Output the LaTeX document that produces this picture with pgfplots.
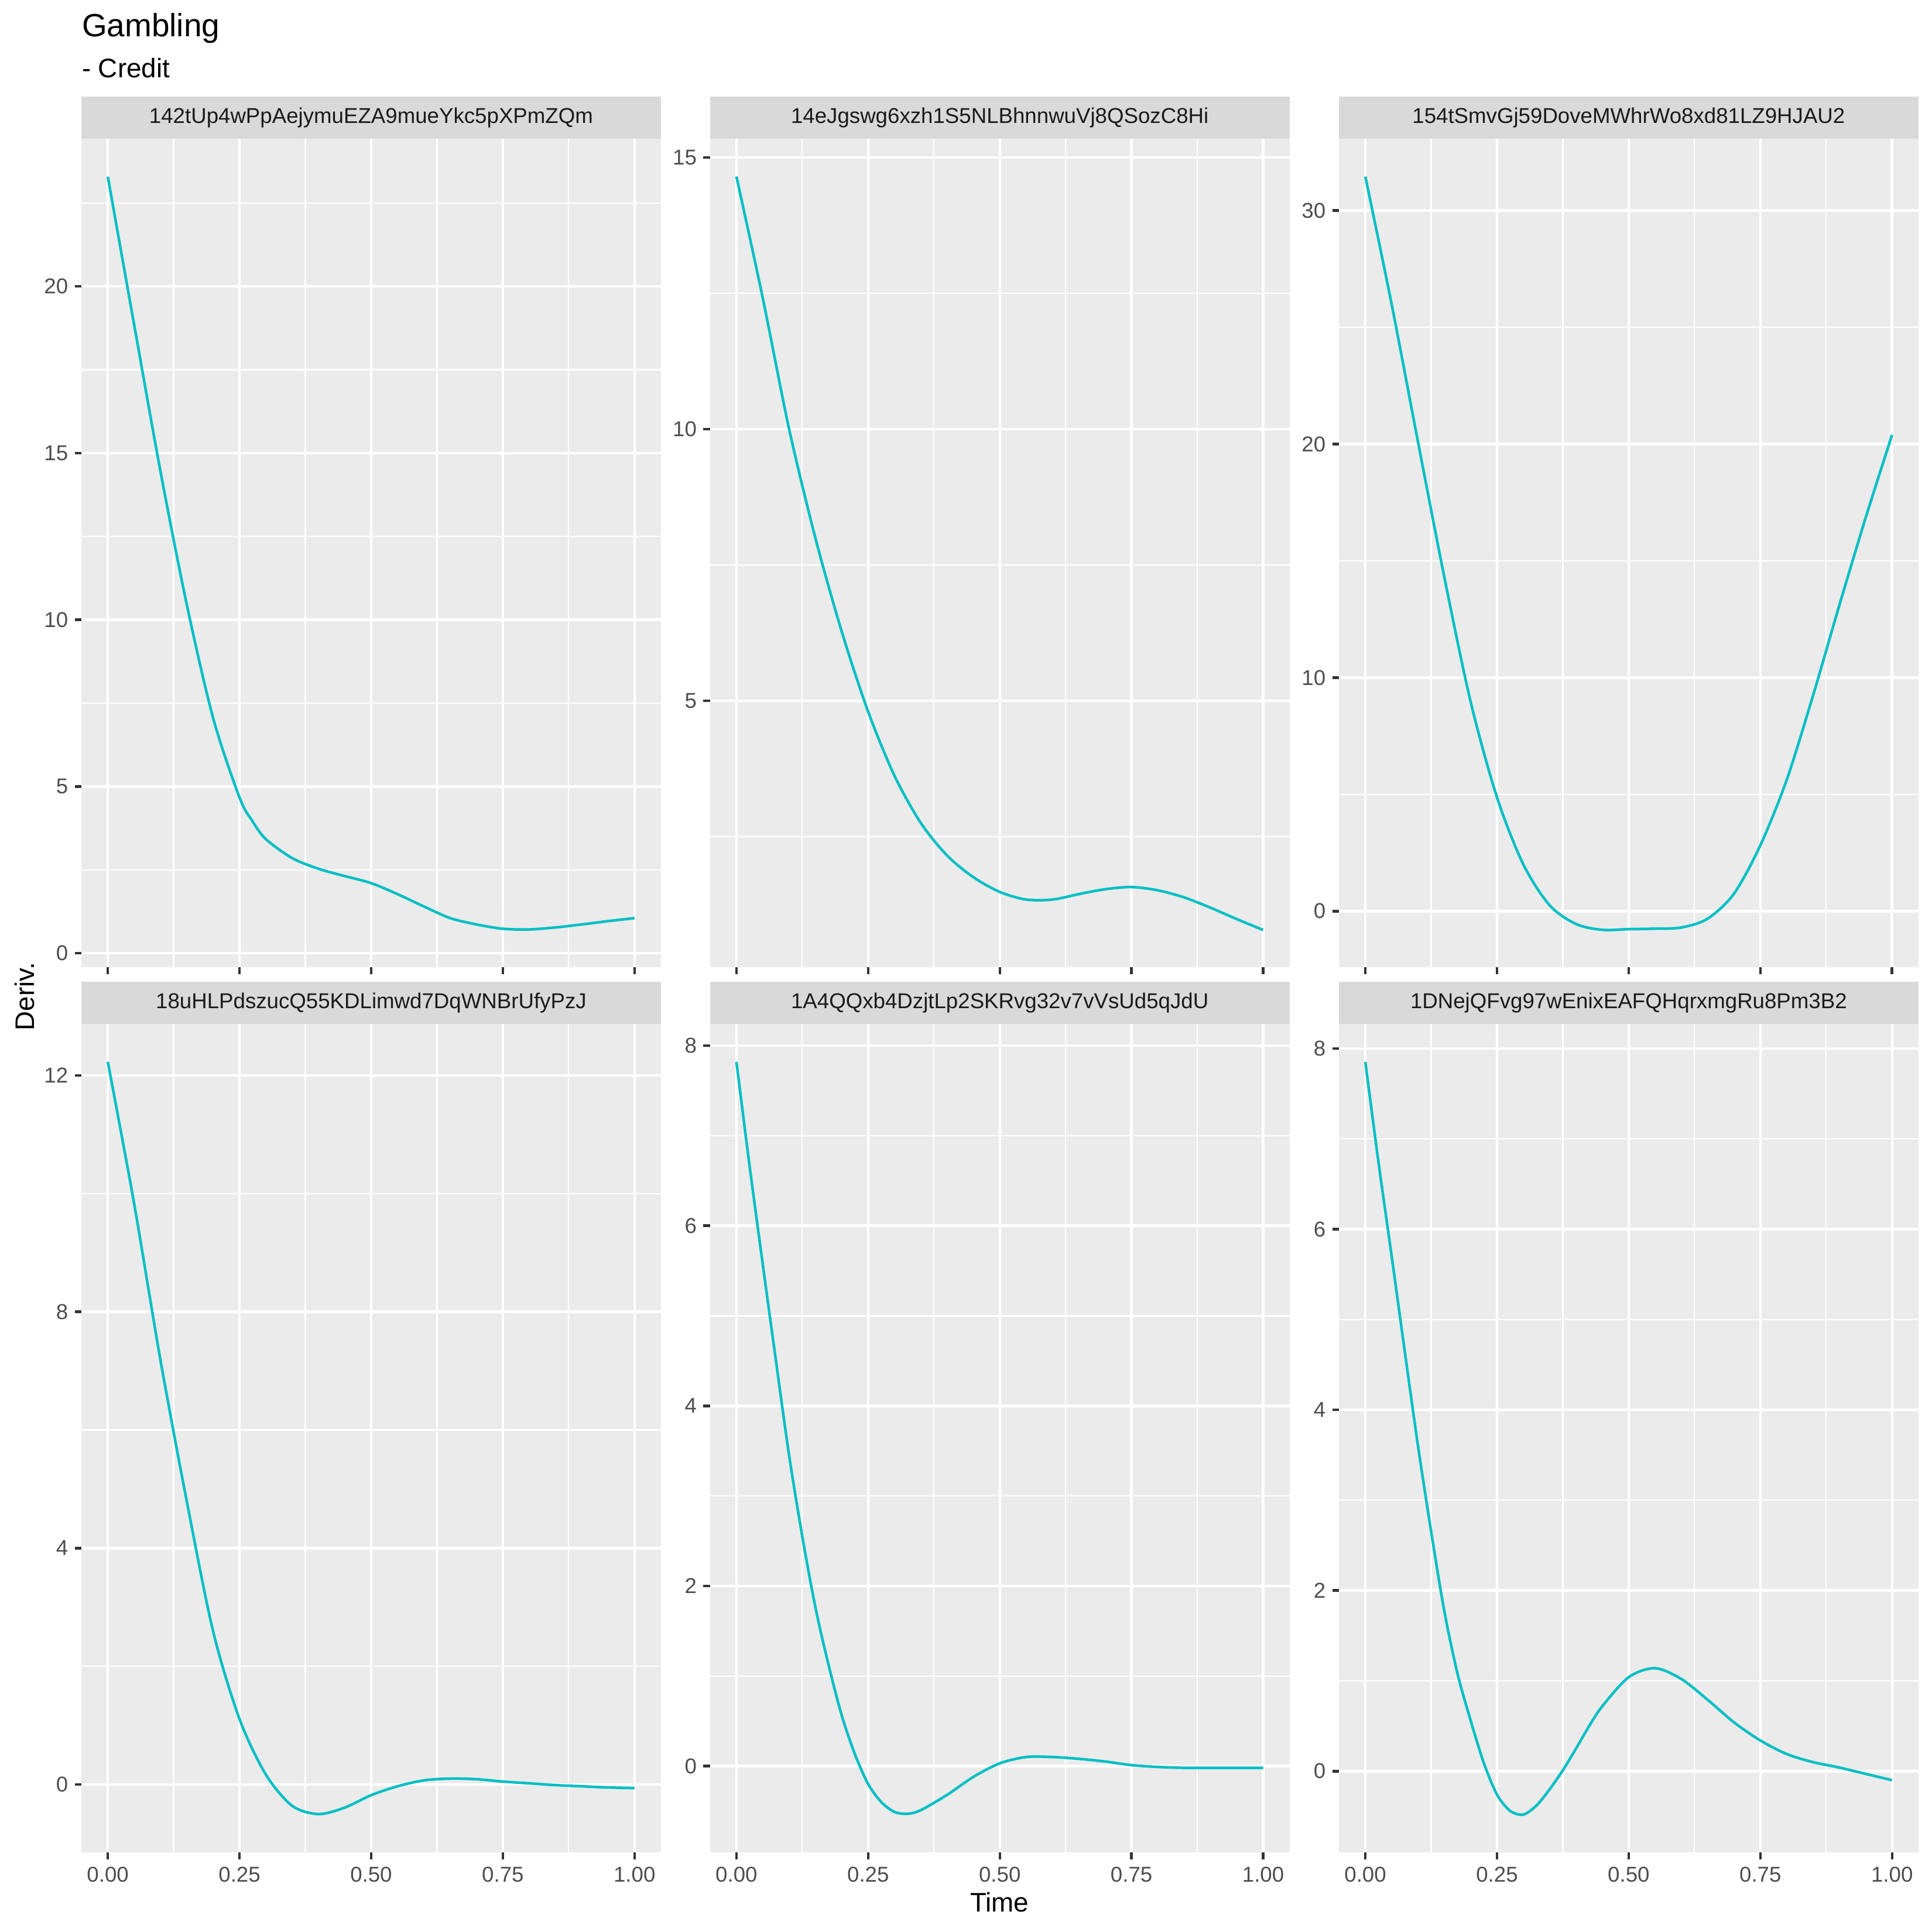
\documentclass[border=0pt]{standalone}
\usepackage{fontspec}
\setmainfont{Liberation Sans}
\usepackage{pgfplots}
\pgfplotsset{compat=1.18}
\definecolor{gg92}{HTML}{EBEBEB}
\definecolor{gg85}{HTML}{D9D9D9}
\definecolor{gg20}{HTML}{333333}
\definecolor{gg30}{HTML}{4D4D4D}
\definecolor{gg10}{HTML}{1A1A1A}
\definecolor{ggteal}{HTML}{00BFC4}
\pgfplotsset{
 ggpanel/.style={
  scale only axis, width=237.5pt, height=339.6pt, anchor=south west,
  xmin=-0.05, xmax=1.05,
  axis background/.style={fill=gg92},
  axis line style={draw=none},
  grid=both,
  major grid style={white, line width=1.07pt},
  minor grid style={white, line width=0.53pt},
  xtick={0,0.25,0.5,0.75,1},
  minor xtick={0.125,0.375,0.625,0.875},
  tick align=outside,
  major tick length=2.75pt,
  minor tick length=0pt,
  tick pos=left,
  major tick style={gg20, line width=1.07pt},
  /pgf/number format/assume math mode=true,
  ticklabel style={font=\fontsize{8.8}{10}\selectfont, text=gg30, inner sep=0pt},
  yticklabel style={anchor=east, xshift=-2.55pt},
  xticklabel style={anchor=north, yshift=-2.95pt},
 },
 ggline/.style={color=ggteal, line width=1.07pt, smooth, tension=0.5, mark=none},
 toprow/.style={xticklabels={}},
 botrow/.style={xticklabels={0.00,0.25,0.50,0.75,1.00}},
}
\newcommand{\strip}[3]{%
  \fill[gg85] (#1,#2) rectangle ++(237.5pt,17.3pt);
  \node[font=\fontsize{8.8}{10}\selectfont, text=gg10, anchor=center] at ([xshift=118.75pt,yshift=8.65pt]#1,#2) {#3};
}
\begin{document}
\begin{tikzpicture}
\useasboundingbox (0,0) rectangle (792pt,792pt);
\node[anchor=base west, inner sep=0pt, font=\fontsize{13.2}{15}\selectfont] at (33.4pt,776.9pt) {Gambling};
\node[anchor=base west, inner sep=0pt, font=\fontsize{11}{13}\selectfont] at (33.4pt,760.3pt) {- Credit};

% Panel 1
\begin{axis}[ggpanel, toprow, at={(33.4pt,395.4pt)}, ymin=-0.43, ymax=24.42,
  ytick={0,5,10,15,20}, minor ytick={2.5,7.5,12.5,17.5,22.5}]
\addplot[ggline] coordinates {(0,23.29) (0.05,18.85) (0.1,14.45) (0.15,10.45) (0.2,7.05) (0.25,4.67) (0.275,3.95) (0.3,3.42) (0.35,2.85) (0.4,2.53) (0.45,2.31) (0.5,2.10) (0.55,1.77) (0.6,1.40) (0.65,1.05) (0.7,0.86) (0.75,0.73) (0.8,0.71) (0.85,0.77) (0.9,0.86) (0.95,0.96) (1,1.05)};
\end{axis}
% Panel 2
\begin{axis}[ggpanel, toprow, at={(291.1pt,395.4pt)}, ymin=0.09, ymax=15.34,
  ytick={5,10,15}, minor ytick={2.5,7.5,12.5}]
\addplot[ggline] coordinates {(0,14.65) (0.05,12.41) (0.1,10.0) (0.15,7.99) (0.2,6.27) (0.25,4.80) (0.3,3.62) (0.35,2.75) (0.4,2.15) (0.45,1.75) (0.5,1.48) (0.55,1.34) (0.6,1.34) (0.65,1.44) (0.7,1.53) (0.75,1.57) (0.8,1.51) (0.85,1.38) (0.9,1.19) (0.95,0.98) (1.0,0.78)};
\end{axis}
% Panel 3
\begin{axis}[ggpanel, toprow, at={(548.9pt,395.4pt)}, ymin=-2.41, ymax=33.06,
  ytick={0,10,20,30}, minor ytick={5,15,25}]
\addplot[ggline] coordinates {(0,31.45) (0.05,25.98) (0.1,20.09) (0.15,14.30) (0.2,8.96) (0.25,4.87) (0.3,2.00) (0.35,0.25) (0.4,-0.55) (0.45,-0.80) (0.5,-0.77) (0.55,-0.75) (0.6,-0.70) (0.65,-0.32) (0.7,0.75) (0.75,2.82) (0.8,5.62) (0.85,9.23) (0.9,13.10) (0.95,16.85) (1.0,20.39)};
\end{axis}
% Panel 4
\begin{axis}[ggpanel, botrow, at={(33.4pt,32.6pt)}, ymin=-1.15, ymax=12.87,
  ytick={0,4,8,12}, minor ytick={2,6,10}]
\addplot[ggline] coordinates {(0,12.23) (0.05,9.83) (0.1,7.18) (0.15,4.79) (0.2,2.59) (0.25,1.11) (0.3,0.17) (0.35,-0.36) (0.4,-0.50) (0.45,-0.39) (0.5,-0.18) (0.55,-0.03) (0.6,0.07) (0.65,0.10) (0.7,0.09) (0.75,0.05) (0.8,0.02) (0.85,-0.01) (0.9,-0.03) (0.95,-0.05) (1.0,-0.06)};
\end{axis}
% Panel 5
\begin{axis}[ggpanel, botrow, at={(291.1pt,32.6pt)}, ymin=-0.96, ymax=8.24,
  ytick={0,2,4,6,8}, minor ytick={1,3,5,7}]
\addplot[ggline] coordinates {(0,7.82) (0.025,6.66) (0.05,5.57) (0.075,4.50) (0.1,3.45) (0.125,2.55) (0.15,1.76) (0.175,1.12) (0.2,0.56) (0.225,0.13) (0.25,-0.20) (0.275,-0.40) (0.3,-0.51) (0.325,-0.53) (0.35,-0.49) (0.4,-0.32) (0.45,-0.12) (0.5,0.03) (0.55,0.10) (0.6,0.10) (0.65,0.08) (0.7,0.05) (0.75,0.01) (0.8,-0.01) (0.85,-0.02) (0.9,-0.02) (1.0,-0.02)};
\end{axis}
% Panel 6
\begin{axis}[ggpanel, botrow, at={(548.9pt,32.6pt)}, ymin=-0.90, ymax=8.27,
  ytick={0,2,4,6,8}, minor ytick={1,3,5,7}]
\addplot[ggline] coordinates {(0,7.85) (0.025,6.74) (0.05,5.70) (0.075,4.64) (0.1,3.60) (0.125,2.65) (0.15,1.77) (0.175,1.08) (0.2,0.56) (0.225,0.09) (0.25,-0.26) (0.275,-0.44) (0.3,-0.48) (0.325,-0.38) (0.35,-0.20) (0.375,0.01) (0.4,0.25) (0.425,0.50) (0.45,0.72) (0.5,1.04) (0.55,1.14) (0.6,1.02) (0.65,0.79) (0.7,0.54) (0.75,0.34) (0.8,0.19) (0.85,0.10) (0.9,0.04) (0.95,-0.03) (1.0,-0.10)};
\end{axis}

\strip{33.4pt}{735.0pt}{142tUp4wPpAejymuEZA9mueYkc5pXPmZQm}
\strip{291.1pt}{735.0pt}{14eJgswg6xzh1S5NLBhnnwuVj8QSozC8Hi}
\strip{548.9pt}{735.0pt}{154tSmvGj59DoveMWhrWo8xd81LZ9HJAU2}
\strip{33.4pt}{372.2pt}{18uHLPdszucQ55KDLimwd7DqWNBrUfyPzJ}
\strip{291.1pt}{372.2pt}{1A4QQxb4DzjtLp2SKRvg32v7vVsUd5qJdU}
\strip{548.9pt}{372.2pt}{1DNejQFvg97wEnixEAFQHqrxmgRu8Pm3B2}

\node[anchor=base, font=\fontsize{11}{13}\selectfont] at (409.7pt,8.2pt) {Time};
\node[anchor=base, rotate=90, font=\fontsize{11}{13}\selectfont] at (14pt,383.5pt) {Deriv.};
\end{tikzpicture}
\end{document}
